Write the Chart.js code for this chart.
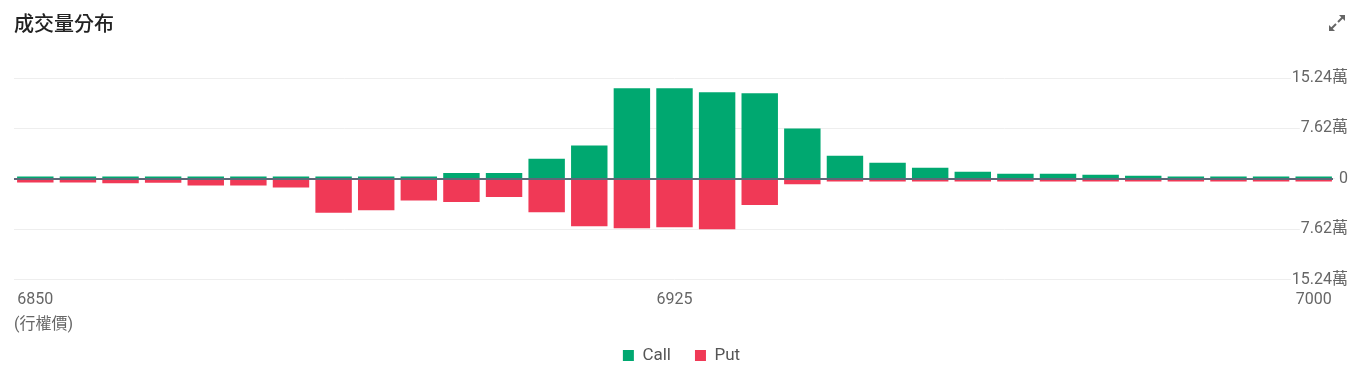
<!DOCTYPE html>
<html>
<head>
<meta charset="utf-8">
<script src="https://cdn.jsdelivr.net/npm/chart.js@4"></script>
<style>
  body { margin: 0; background: #fff; font-family: Roboto, "Noto Sans CJK TC", sans-serif; }
  #wrap { position: relative; width: 1360px; height: 377px; }
  #title { position: absolute; left: 14px; top: 8px; font-size: 20px; font-weight: 500; color: #222;
           font-family: "Noto Sans CJK TC", sans-serif; }
  #expand { position: absolute; left: 1326px; top: 12px; }
  canvas { position: absolute; left: 0; top: 0; }
</style>
</head>
<body>
<div id="wrap">
  <canvas id="myChart" width="1360" height="377"></canvas>
  <div id="title">成交量分布</div>
  <svg id="expand" width="22" height="22" viewBox="0 0 22 22">
    <g stroke="#666" stroke-width="2" fill="#666">
      <line x1="12" y1="10" x2="18" y2="4"/>
      <polygon points="13,3 19,3 19,9" stroke-width="0"/>
      <line x1="10" y1="12" x2="4" y2="18"/>
      <polygon points="3,13 3,19 9,19" stroke-width="0"/>
    </g>
  </svg>
</div>
<script>
// strike prices
var strikes = [];
for (var s = 6850; s <= 7000; s += 5) strikes.push(String(s));

// call volume (positive side)
var callVol = [3800, 3800, 3800, 3800, 3800, 3800, 3800, 3800, 3800, 3800,
               9100, 9000, 30500, 50300, 137000, 136800, 131000, 129500, 76000, 35000,
               24500, 17000, 10700, 7600, 7600, 6100, 4600, 3500, 3500, 3500, 3500];
// put volume (shown below zero)
var putVol = [5500, 5500, 6500, 6000, 10000, 10000, 13000, 51000, 47500, 32500,
              35000, 27400, 50300, 71600, 74600, 73000, 76000, 39600, 8000, 4000,
              4000, 4000, 4000, 4000, 4000, 4000, 4000, 4000, 4000, 4000, 4000];

var yTicks = [-152400, -76200, 0, 76200, 152400];

var green = "rgb(0, 168, 112)";
var red = "rgb(240, 57, 86)";

function fmtVol(v){
    if (v == 0) return "0";
    return (Math.abs(v) / 10000).toFixed(2) + "萬";
}

// zero line + right side labels drawn over the plot
var overlay = {
    id: "overlay",
    afterLayout: function(chart){
        // legend is centred on the whole card, not the plot
        chart.legend.left += 7;
        chart.legend.right += 7;
    },
    afterDatasetsDraw: function(chart){
        var ctx = chart.ctx;
        var area = chart.chartArea;
        var y = chart.scales.y;
        var y0 = y.getPixelForValue(0);
        ctx.save();
        ctx.strokeStyle = "#5e6878";
        ctx.lineWidth = 2;
        ctx.beginPath();
        ctx.moveTo(area.left, y0);
        ctx.lineTo(area.right - 2, y0);
        ctx.stroke();

        ctx.font = "16px Roboto, 'Noto Sans CJK TC'";
        ctx.textAlign = "right";
        ctx.textBaseline = "middle";
        for (var i = 0; i < yTicks.length; i++){
            var py = y.getPixelForValue(yTicks[i]);
            var txt = fmtVol(yTicks[i]);
            var w = ctx.measureText(txt).width;
            ctx.fillStyle = "#fff";
            ctx.fillRect(1348 - w - 1, py - 9, w + 12, 18);
            ctx.fillStyle = "#666";
            ctx.fillText(txt, 1348, py);
        }
        ctx.restore();
    }
};

var ctx = document.getElementById("myChart").getContext("2d");
var myChart = new Chart(ctx, {
    type: "bar",
    data: {
        labels: strikes,
        datasets: [{
            label: "Call",
            data: callVol,
            backgroundColor: green,
            borderWidth: 0,
            categoryPercentage: 0.95,
            barPercentage: 0.9
        }, {
            label: "Put",
            data: putVol.map(function(v){ return -v; }),
            backgroundColor: red,
            borderWidth: 0,
            categoryPercentage: 0.95,
            barPercentage: 0.9
        }]
    },
    options: {
        responsive: false,
        animation: false,
        layout: { padding: { left: 14, right: 25, top: 78, bottom: 3 } },
        plugins: {
            tooltip: { enabled: false },
            legend: {
                position: "bottom",
                labels: {
                    boxWidth: 11,
                    boxHeight: 11,
                    padding: 24,
                    color: "#555",
                    font: { family: "Roboto", size: 17 }
                }
            }
        },
        scales: {
            x: {
                stacked: true,
                grid: { display: false, drawTicks: false },
                border: { display: false },
                ticks: {
                    autoSkip: false,
                    maxRotation: 0,
                    padding: 10.5,
                    color: "#666",
                    font: { family: "Roboto", size: 16 },
                    callback: function(val, idx){
                        return (idx % 15 == 0) ? strikes[idx] : "";
                    }
                },
                title: {
                    display: true,
                    text: "(行權價)",
                    align: "start",
                    color: "#666",
                    font: { family: "Roboto, 'Noto Sans CJK TC'", size: 16 },
                    padding: { top: -4.5, bottom: -11.7 }
                }
            },
            y: {
                stacked: true,
                min: -152400,
                max: 152400,
                afterBuildTicks: function(scale){
                    scale.ticks = yTicks.map(function(v){ return { value: v }; });
                },
                grid: { color: "#eeeeee", drawTicks: false },
                border: { display: false },
                ticks: { display: false }
            }
        }
    },
    plugins: [overlay]
});
</script>
</body>
</html>
